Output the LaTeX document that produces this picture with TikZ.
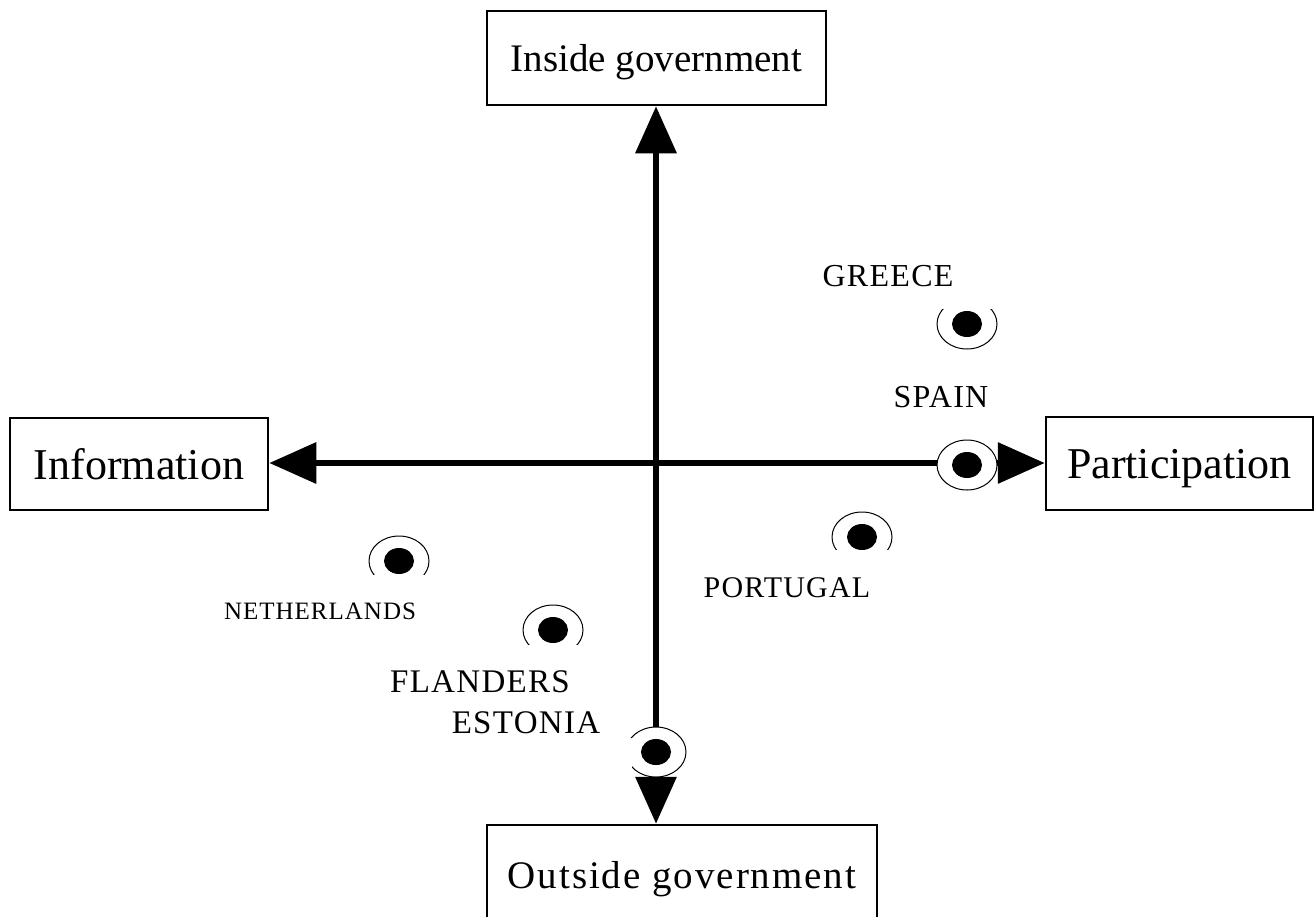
\documentclass[tikz,border=0pt]{standalone}
\usepackage{fontspec}
\setmainfont{Liberation Serif}
\usetikzlibrary{arrows.meta,shapes.geometric}
\tikzset{
  axisbox/.style={
    rectangle, draw=black, fill=white, line width=2.5pt,
    inner sep=0pt, text depth=0pt, align=center
  },
  axis/.style={-{Triangle[length=47pt,width=40pt]}, line width=6.5pt},
  ring/.style={
    ellipse, draw=black, fill=white, line width=1pt,
    minimum width=60pt, minimum height=50pt, inner sep=0pt
  },
  dot/.style={
    ellipse, fill=black,
    minimum width=30pt, minimum height=26pt, inner sep=0pt
  },
  country/.style={anchor=base, inner sep=0pt}
}
\newcommand{\capsfont}[1]{\fontsize{#1}{#1}\selectfont\addfontfeature{LetterSpace=4}}
\begin{document}
\begin{tikzpicture}[x=1pt,y=-1pt]
  \useasboundingbox (0,0) rectangle (1316,916);

  % Boxes at the four ends
  \node[axisbox, minimum width=339pt, minimum height=94pt,
    font=\fontsize{39}{47}\selectfont] (inside) at (656.5,58) {Inside government};
  \node[axisbox, minimum width=390pt, minimum height=100pt,
    font=\fontsize{39}{47}\selectfont\addfontfeature{LetterSpace=5}] (outside) at (682,875) {Outside government};
  \node[axisbox, minimum width=258pt, minimum height=92pt,
    font=\fontsize{44}{52}\selectfont] (info) at (139,464) {Information};
  \node[axisbox, minimum width=267pt, minimum height=93pt,
    font=\fontsize{44}{52}\selectfont] (part) at (1179.5,463.5) {Participation};

  % Axes
  \coordinate (origin) at (656,463);
  \draw[axis] (origin) -- (origin |- inside.south);
  \draw[axis] (origin) -- (origin |- outside.north);
  \draw[axis] (origin) -- (origin -| info.east);
  \draw[axis] (origin) -- (origin -| part.west);

  % Country marks
  \begin{scope}
    \clip (920,309) rectangle (1015,360);
    \node[ring] (greece) at (967,324) {};
    \node[dot] (greece dot) at (greece) {};
  \end{scope}
  \node[ring] (spain) at (967,465) {};
  \node[dot] (spain dot) at (spain) {};
  \begin{scope}
    \clip (820,500) rectangle (905,549);
    \node[ring] (portugal) at (862,537) {};
    \node[dot] (portugal dot) at (portugal) {};
  \end{scope}
  \begin{scope}
    \clip (360,525) rectangle (440,574);
    \node[ring] (netherlands) at (399,561) {};
    \node[dot] (netherlands dot) at (netherlands) {};
  \end{scope}
  \begin{scope}
    \clip (510,595) rectangle (595,644);
    \node[ring] (flanders) at (553,630) {};
    \node[dot] (flanders dot) at (flanders) {};
  \end{scope}
  \begin{scope}
    \clip (600,715) -- (700,715) -- (700,790) -- (600,790) -- (600,768)
      -- (632,768) -- (632,738) -- (600,738) -- cycle;
    \node[ring] (estonia) at (656,752) {};
    \node[dot] (estonia dot) at (estonia) {};
  \end{scope}

  % Country names
  \node[country, font=\capsfont{32}] (greece label) at (888,286) {GREECE};
  \node[country, font=\capsfont{32}] (spain label) at (941,407) {SPAIN};
  \node[country, font=\capsfont{30}] (portugal label) at (787,597) {PORTUGAL};
  \node[country, font=\capsfont{25}] (netherlands label) at (320,619) {NETHERLANDS};
  \node[country, font=\capsfont{33}] (flanders label) at (480,692) {FLANDERS};
  \node[country, font=\capsfont{33}] (estonia label) at (526,733) {ESTONIA};

\end{tikzpicture}
\end{document}
